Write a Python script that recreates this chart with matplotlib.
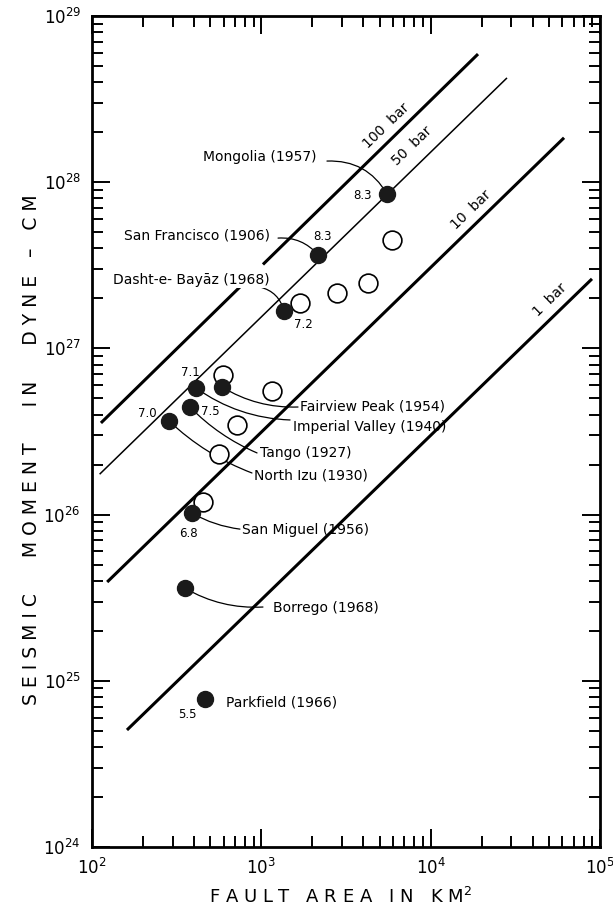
import matplotlib
matplotlib.use("Agg")
import matplotlib.pyplot as plt
import numpy as np

plt.rcParams['font.family'] = ['DejaVu Sans']

# Earthquakes (filled): fault area km^2, seismic moment dyne-cm
quakes = ["Mongolia (1957)", "San Francisco (1906)", "Dasht-e- Bayāz (1968)",
          "Fairview Peak (1954)", "Imperial Valley (1940)", "Tango (1927)",
          "North Izu (1930)", "San Miguel (1956)", "Borrego (1968)", "Parkfield (1966)"]
area = [5525, 2163, 1361, 586, 411, 379, 285, 390, 354, 465]
moment = [8.5e27, 3.65e27, 1.68e27, 5.86e26, 5.78e26, 4.44e26, 3.66e26, 1.02e26, 3.61e25, 7.77e24]

# open circles
area_open = [5916, 4266, 2799, 1694, 594, 1156, 718, 562, 453]
moment_open = [4.49e27, 2.47e27, 2.15e27, 1.88e27, 6.92e26, 5.55e26, 3.46e26, 2.32e26, 1.19e26]

# label positions (x, y, ha) and leader anchors
label_x = [982, 1125, 1125, 1694, 1538, 982, 906, 769, 1172, 618]
label_y = [1.42e28, 4.81e27, 2.58e27, 4.5e26, 3.37e26, 2.35e26, 1.73e26, 8.07e25, 2.74e25, 7.45e24]
label_ha = ['center', 'right', 'right', 'left', 'left', 'left', 'left', 'left', 'left', 'left']
lead_x = [2443, 1256, 982, 1648, 1479, 944, 881, 748, 1023, None]
lead_y = [1.34e28, 4.61e27, 2.34e27, 4.44e26, 3.71e26, 2.35e26, 1.78e26, 8.18e25, 2.78e25, None]
lead_rad = [-0.3, -0.25, -0.3, -0.15, -0.15, -0.1, -0.1, -0.1, -0.15, 0]

# magnitudes
mags = ["8.3", "8.3", "7.2", "7.1", "7.5", "7.0", "6.8", "5.5"]
mag_x = [3936, 2312, 1762, 379, 498, 211, 369, 364]
mag_y = [8.26e27, 4.68e27, 1.40e27, 7.21e26, 4.2e26, 4.08e26, 7.74e25, 6.31e24]

# constant stress-drop lines (end points)
stress = ["100", "50", "10", "1"]
line_x0 = [113, 111, 123, 161]
line_y0 = [3.56e26, 1.75e26, 3.93e25, 5.06e24]
line_x1 = [19050, 28250, 61380, 89740]
line_y1 = [5.9e28, 4.24e28, 1.85e28, 2.62e27]
line_w = [2.2, 1.1, 2.2, 2.2]
gap_100 = (748, 1023)
stress_lx = [5457, 7762, 17340, 50700]
stress_ly = [2.18e28, 1.65e28, 6.8e27, 1.95e27]

fig = plt.figure(figsize=(6.13, 9.18), dpi=100)
ax = fig.add_axes([0.150, 0.0773, 0.8287, 0.9053])
ax.set_xscale('log')
ax.set_yscale('log')
ax.set_xlim(1e2, 1e5)
ax.set_ylim(1e24, 1e29)

def line_y(i, x):
    lx0, lx1 = np.log10(line_x0[i]), np.log10(line_x1[i])
    ly0, ly1 = np.log10(line_y0[i]), np.log10(line_y1[i])
    return 10 ** (ly0 + (np.log10(x) - lx0) * (ly1 - ly0) / (lx1 - lx0))

for i in range(len(stress)):
    if stress[i] == "100":
        ax.plot([line_x0[i], gap_100[0]], [line_y0[i], line_y(i, gap_100[0])], color='k', lw=line_w[i], solid_capstyle='butt')
        ax.plot([gap_100[1], line_x1[i]], [line_y(i, gap_100[1]), line_y1[i]], color='k', lw=line_w[i], solid_capstyle='butt')
    else:
        ax.plot([line_x0[i], line_x1[i]], [line_y0[i], line_y1[i]], color='k', lw=line_w[i], solid_capstyle='butt')
    ax.text(stress_lx[i], stress_ly[i], stress[i] + "  bar", rotation=44, ha='center', va='center', fontsize=10)

# leaders
for i in range(len(quakes)):
    if lead_x[i] is None:
        continue
    ax.annotate('', xy=(area[i], moment[i]), xytext=(lead_x[i], lead_y[i]),
                arrowprops=dict(arrowstyle='-', lw=0.9, color='k', shrinkA=0, shrinkB=0,
                                connectionstyle='arc3,rad=%s' % lead_rad[i]))

ax.plot(area_open, moment_open, 'o', ms=13.5, mfc='white', mec='k', mew=1.2, zorder=4)
ax.plot(area, moment, 'o', ms=11.5, mfc='#1a1a1a', mec='#1a1a1a', zorder=5)

for i in range(len(quakes)):
    ax.text(label_x[i], label_y[i], quakes[i], ha=label_ha[i], va='center', fontsize=10,
            bbox=dict(fc='white', ec='none', pad=0.5) if label_ha[i] == 'right' else None, zorder=6)

for i in range(len(mags)):
    ax.text(mag_x[i], mag_y[i], mags[i], ha='center', va='center', fontsize=8.5, zorder=6)

ax.tick_params(which='both', direction='in', top=True, right=True, width=1.4, labelsize=12)
ax.tick_params(which='major', length=13, pad=8)
ax.tick_params(which='minor', length=8)
ax.yaxis.set_minor_formatter(matplotlib.ticker.NullFormatter())
ax.xaxis.set_minor_formatter(matplotlib.ticker.NullFormatter())
for s in ax.spines.values():
    s.set_linewidth(2)

fig.text(0.556, 0.012, "F A U L T   A R E A   I N   K M$^2$", ha='center', va='bottom', fontsize=13)
fig.text(0.052, 0.51, "S E I S M I C      M O M E N T      I N      D Y N E   –   C M",
         rotation=90, ha='center', va='center', fontsize=13.5)

fig.savefig("out.png", dpi=100)
